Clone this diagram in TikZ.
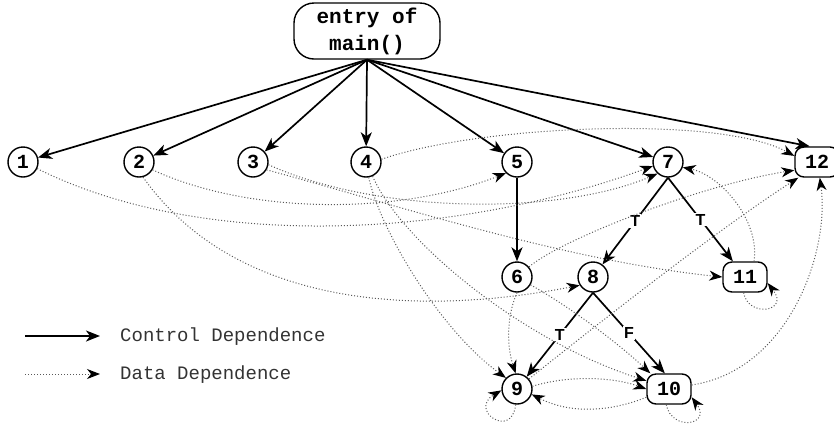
\documentclass[tikz,border=0pt]{standalone}
\usepackage{fontspec}
\newfontfamily\cdmono{Liberation Mono}
\newfontfamily\cdsans{Liberation Sans}
\usetikzlibrary{arrows.meta}
\begin{document}
\begin{tikzpicture}[x=1pt,y=-1pt,
  num/.style={circle,draw,line width=1.4pt,minimum size=30pt,inner sep=0pt,
    font=\cdmono\bfseries\fontsize{20}{20}\selectfont},
  rnum/.style={rectangle,rounded corners=9pt,draw,line width=1.4pt,
    minimum width=44pt,minimum height=30pt,inner sep=0pt,
    font=\cdmono\bfseries\fontsize{20}{20}\selectfont},
  ctrl/.style={line width=1.7pt,-{Stealth[length=14pt,width=11pt,inset=4pt]}},
  data/.style={line width=1pt,black!65,dash pattern=on 1pt off 2pt,
    -{Stealth[length=13pt,width=10pt,inset=4pt,color=black]}},
  lbl/.style={fill=white,inner sep=1.2pt,font=\cdsans\bfseries\fontsize{16}{16}\selectfont},
  legendtext/.style={anchor=west,inner sep=0pt,text=black!80,
    font=\cdmono\fontsize{19}{19}\selectfont}
]
\useasboundingbox (0,0) rectangle (834,424);

% statement nodes
\node[draw,rounded corners=20pt,line width=1.4pt,minimum width=146pt,minimum height=56pt,
  align=center,inner sep=0pt,font=\cdmono\bfseries\fontsize{21}{27}\selectfont]
  (entry) at (367,31) {entry of\\main()};
\node[num] (n1) at (23,162) {1};
\node[num] (n2) at (139,162) {2};
\node[num] (n3) at (253,162) {3};
\node[num] (n4) at (366,162) {4};
\node[num] (n5) at (517,162) {5};
\node[num] (n7) at (668,162) {7};
\node[rnum] (n12) at (817,162) {12};
\node[num] (n6) at (517,277) {6};
\node[num] (n8) at (593,277) {8};
\node[rnum] (n11) at (745,277) {11};
\node[num] (n9) at (517,389) {9};
\node[rnum] (n10) at (669,389) {10};

% control dependences
\draw[ctrl] (entry.south) -- (n1);
\draw[ctrl] (entry.south) -- (n2);
\draw[ctrl] (entry.south) -- (n3);
\draw[ctrl] (entry.south) -- (n4);
\draw[ctrl] (entry.south) -- (n5);
\draw[ctrl] (entry.south) -- (n7);
\draw[ctrl] (entry.south) -- (n12.115);
\draw[ctrl] (n5) -- (n6);
\draw[ctrl] (n7.south) -- node[lbl] {T} (n8);
\draw[ctrl] (n7.south) -- node[lbl] {T} (n11);
\draw[ctrl] (n8.south) -- node[lbl] {T} (n9);
\draw[ctrl] (n8.south) -- node[lbl] {F} (n10.105);

% data dependences
\draw[data] (n1.335) .. controls (200,250) and (450,240) .. (n7.195);
\draw[data] (n2.330) .. controls (250,215) and (400,215) .. (n5.225);
\draw[data] (n2.285) .. controls (230,300) and (400,320) .. (n8.212);
\draw[data] (n3.350) .. controls (380,215) and (560,215) .. (n7.228);
\draw[data] (n3.330) .. controls (380,200) and (560,260) .. (n11.west);
\draw[data] (n4.10) .. controls (480,125) and (720,115) .. (n12.165);
\draw[data] (n4.-80) .. controls (380,230) and (440,330) .. (n9.135);
\draw[data] (n4.-65) .. controls (400,240) and (520,340) .. (n10.160);
\draw[data] (n6.330) .. controls (575,310) and (620,345) .. (n10.140);
\draw[data] (n6.south) .. controls (505,320) and (508,350) .. (n9.95);
\draw[data] (n6.40) .. controls (560,240) and (700,185) .. (n12.200);
\draw[data] (n9.40) .. controls (600,322) and (720,228) .. (n12.220);
\draw[data] (n9.10) .. controls (565,376) and (610,376) .. (n10.west);
\draw[data] (n10.200) .. controls (610,412) and (570,414) .. (n9.340);
\draw[data] (n9.-95) .. controls (512,440) and (468,410) .. (n9.185);
\draw[data] (n10.-100) .. controls (672,432) and (712,425) .. (n10.-20);
\draw[data] (n10.10) .. controls (790,370) and (830,250) .. (n12.-80);
\draw[data] (n11.-95) .. controls (748,318) and (790,312) .. (n11.-15);
\draw[data] (n11.60) .. controls (760,220) and (720,175) .. (n7.-20);

% legend
\coordinate (lc0) at (25,336);
\coordinate (lc1) at (100,336);
\coordinate (ld0) at (25,374);
\coordinate (ld1) at (100,374);
\draw[ctrl] (lc0) -- (lc1);
\draw[data] (ld0) -- (ld1);
\node[legendtext] (lct) at (120,337) {Control Dependence};
\node[legendtext] (ldt) at (120,375) {Data Dependence};
\end{tikzpicture}
\end{document}
